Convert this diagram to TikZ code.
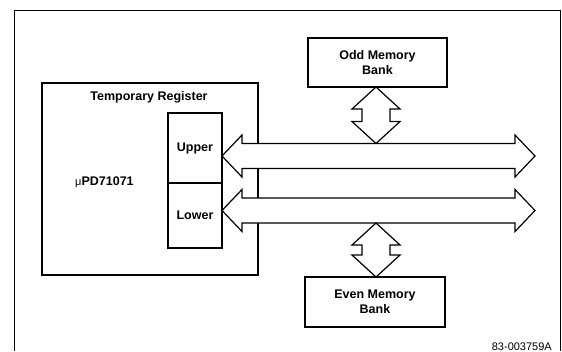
\documentclass[tikz,border=0pt]{standalone}
\usepackage{fontspec}
\setmainfont{Liberation Sans}
\usetikzlibrary{calc}
\begin{document}
\begin{tikzpicture}[x=1pt,y=-1pt,
  box/.style={draw, line width=1.4pt, inner sep=0pt, outer sep=0pt},
  lbl/.style={font=\fontsize{12.5}{15}\selectfont\bfseries, align=center, inner sep=0pt},
  hbus/.style={draw, line width=1.2pt, fill=white, line join=miter,
    to path={let \p1=(\tikztostart), \p2=(\tikztotarget) in
      (\x1,\y1) -- (\x1+20pt,\y1+21pt) -- (\x1+20pt,\y1+12.5pt) -- (\x2-20pt,\y1+12.5pt)
      -- (\x2-20pt,\y1+21pt) -- (\x2,\y1) -- (\x2-20pt,\y1-21pt) -- (\x2-20pt,\y1-12.5pt)
      -- (\x1+20pt,\y1-12.5pt) -- (\x1+20pt,\y1-21pt) -- cycle}},
  vbus/.style={draw, line width=1.2pt, fill=white, line join=miter,
    to path={let \p1=(\tikztostart), \p2=(\tikztotarget) in
      (\x1,\y1) -- (\x1+24pt,\y1-22pt) -- (\x1+14pt,\y1-22pt) -- (\x1+14pt,\y2+22pt)
      -- (\x1+24pt,\y2+22pt) -- (\x1,\y2) -- (\x1-24pt,\y2+22pt) -- (\x1-14pt,\y2+22pt)
      -- (\x1-14pt,\y1-22pt) -- (\x1-24pt,\y1-22pt) -- cycle}}
]
\useasboundingbox (0,0) rectangle (562,351);
% frame
\draw[line width=0.9pt] (14,351) -- (14,10) -- (560,10) -- (560,351);

% processor box
\node[box, minimum width=216pt, minimum height=192pt, anchor=north west] (tmp) at (42,83) {};
\node[lbl, anchor=base] (title) at (149,100) {Temporary Register};
\node[lbl, anchor=base west] (chip) at (75,185) {{\mdseries\fontsize{11}{13}\selectfont μ}PD71071};

% memory banks
\node[box, lbl, minimum width=139pt, minimum height=49pt, anchor=north west] (odd) at (308,38) {Odd Memory\\Bank};
\node[box, lbl, minimum width=140pt, minimum height=50pt, anchor=north west] (even) at (305,277) {Even Memory\\Bank};

% bus ends
\coordinate (uend) at (535,156);
\coordinate (lend) at (535,210.5);
\coordinate (utop) at (376,143.5);
\coordinate (lbot) at (376,223);
\coordinate (regnw) at (168,113);

% buses
\draw[hbus] (222,156) coordinate (uapex) to (uend);
\draw[hbus] (222,210.5) coordinate (lapex) to (lend);

% register halves
\node[box, lbl, minimum width=54pt, minimum height=70pt, anchor=north west, fill=white] (upper) at (regnw) {Upper};
\node[box, lbl, minimum width=54pt, minimum height=65pt, anchor=north west, fill=white] (lower) at (upper.south west) {Lower};

% vertical buses
\draw[vbus] (odd.south -| utop) to (utop);
\draw[vbus] (lbot) to (even.north -| lbot);

\node[font=\fontsize{11}{13}\selectfont, anchor=base east, inner sep=0pt] (id) at (552,350) {83-003759A};
\end{tikzpicture}
\end{document}
